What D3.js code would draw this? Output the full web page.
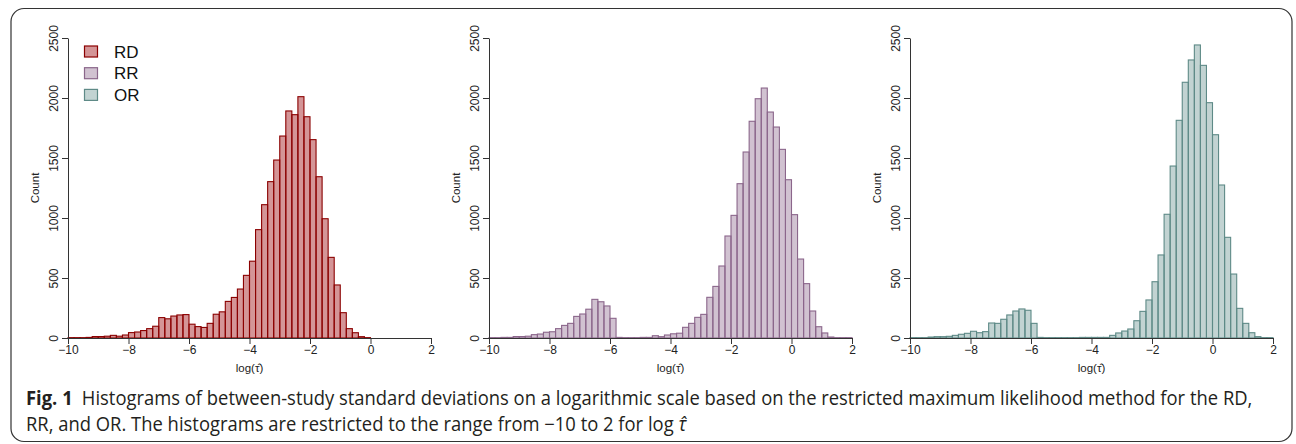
<!DOCTYPE html>
<html lang="en">
<head>
  <meta charset="utf-8" />
  <title>Histograms of log tau</title>
  <script src="https://d3js.org/d3.v7.min.js"></script>
  <style>
    body { margin: 0; background: #fff; }
    svg { display: block; }
    .axis path, .axis line { stroke: #333; stroke-width: 1; }
    .axis text { font-family: "Liberation Sans", Arial, sans-serif; font-size: 12px; fill: #222; }
    .lab { font-family: "Liberation Sans", Arial, sans-serif; font-size: 11.5px; fill: #222; }
    .legend text { font-family: "Liberation Sans", Arial, sans-serif; font-size: 17px; fill: #111; }
    .caption { font-family: "Open Sans", "Noto Sans", sans-serif; font-size: 19.5px; fill: #231f20; }
  </style>
</head>
<body>
<div id="chart"></div>
<script>
  // bins of width 0.2 from -10 to 2 (left edges)
  const binStarts = d3.range(60).map(i => -10 + i * 0.2);
  const xTicks = [-10, -8, -6, -4, -2, 0, 2];
  const yTicks = [0, 500, 1000, 1500, 2000, 2500];

  // counts
  const rdCounts = [3, 3, 3, 5, 12, 12, 15, 22, 15, 25,
                    45, 50, 62, 78, 98, 170, 160, 183, 192, 195,
                    115, 95, 88, 122, 198, 218, 305, 338, 408, 522,
                    640, 903, 1111, 1303, 1483, 1683, 1892, 1861, 2011, 1844,
                    1653, 1344, 994, 672, 442, 211, 78, 44, 11, 3,
                    0, 0, 0, 0, 0, 0, 0, 0, 0, 0];
  const rrCounts = [3, 3, 5, 5, 12, 12, 15, 28, 33, 48,
                    52, 78, 105, 122, 180, 200, 240, 322, 302, 267,
                    164, 5, 3, 3, 3, 5, 5, 19, 11, 25,
                    35, 40, 89, 122, 172, 197, 339, 430, 600, 850,
                    1022, 1286, 1550, 1806, 1994, 2083, 1883, 1758, 1572, 1319,
                    1028, 658, 453, 225, 94, 42, 8, 3, 3, 3];
  const orCounts = [3, 3, 3, 8, 11, 11, 14, 22, 31, 39,
                    56, 44, 53, 125, 122, 156, 192, 225, 242, 231,
                    122, 5, 3, 3, 3, 3, 3, 3, 5, 5,
                    5, 5, 5, 22, 42, 58, 75, 144, 222, 317,
                    469, 692, 1031, 1433, 1814, 2131, 2317, 2442, 2272, 1961,
                    1694, 1275, 839, 533, 247, 122, 44, 11, 3, 3];

  const seriesNames = ["RD", "RR", "OR"];
  const fills = ["rgba(160, 20, 25, 0.45)", "rgba(139, 102, 139, 0.4)", "rgba(95, 140, 137, 0.38)"];
  const strokes = ["#8b0000", "#8b668b", "#5e8a87"];

  const W = 1296, H = 444;
  const svg = d3.select("#chart").append("svg")
    .attr("width", W)
    .attr("height", H);

  svg.append("rect").attr("width", W).attr("height", H).attr("fill", "#fff");

  // rounded frame round the figure
  svg.append("rect")
    .attr("x", 11).attr("y", 8.5)
    .attr("width", 1281).attr("height", 433)
    .attr("rx", 13)
    .attr("fill", "none")
    .attr("stroke", "#333")
    .attr("stroke-width", 1.2);

  const panelLeft = [68, 489, 910];
  const plotW = 363;
  const plotTop = 38, plotBottom = 338;

  function drawPanel(i, counts) {
    const x = d3.scaleLinear().domain([-10, 2]).range([panelLeft[i], panelLeft[i] + plotW]);
    const y = d3.scaleLinear().domain([0, 2500]).range([plotBottom, plotTop]);
    const g = svg.append("g");

    g.append("g").selectAll("rect")
      .data(counts)
      .join("rect")
      .attr("x", (d, j) => x(binStarts[j]))
      .attr("y", d => y(d))
      .attr("width", (d, j) => x(binStarts[j] + 0.2) - x(binStarts[j]))
      .attr("height", d => plotBottom - y(d))
      .attr("fill", fills[i])
      .attr("stroke", strokes[i])
      .attr("stroke-width", 1.1);

    const xa = g.append("g")
      .attr("class", "axis")
      .attr("transform", `translate(0,${plotBottom})`)
      .call(d3.axisBottom(x).tickValues(xTicks).tickSize(6).tickSizeOuter(0)
        .tickFormat(d => d < 0 ? "\u2212" + Math.abs(d) : d));
    xa.selectAll("text").attr("dy", "0.8em").attr("y", 6);

    const ya = g.append("g")
      .attr("class", "axis")
      .attr("transform", `translate(${panelLeft[i]},0)`)
      .call(d3.axisLeft(y).tickValues(yTicks).tickSize(6).tickSizeOuter(0)
        .tickFormat(d3.format("d")));
    ya.selectAll("text")
      .attr("transform", "rotate(-90)")
      .attr("x", 0).attr("y", -10).attr("dy", 0)
      .attr("text-anchor", "middle");

    g.append("text").attr("class", "lab")
      .attr("transform", `translate(${panelLeft[i] - 29},${(plotTop + plotBottom) / 2}) rotate(-90)`)
      .attr("text-anchor", "middle")
      .text("Count");

    g.append("text").attr("class", "lab")
      .attr("x", x(-4)).attr("y", 372)
      .attr("text-anchor", "middle")
      .text("log(\u03C4\u0302)");
  }

  drawPanel(0, rdCounts);
  drawPanel(1, rrCounts);
  drawPanel(2, orCounts);

  // legend in first panel
  const leg = svg.append("g").attr("class", "legend");
  seriesNames.forEach((name, k) => {
    const yy = 46 + k * 21.7;
    leg.append("rect")
      .attr("x", 84.5).attr("y", yy)
      .attr("width", 13).attr("height", 11)
      .attr("fill", fills[k]).attr("stroke", strokes[k]).attr("stroke-width", 1.2);
    leg.append("text").attr("x", 114).attr("y", yy + 11.5).text(name);
  });

  // caption
  const cap = svg.append("g").attr("class", "caption");
  const l1 = cap.append("text").attr("x", 0).attr("y", 405);
  l1.append("tspan").attr("font-weight", "bold").text("Fig. 1");
  l1.append("tspan").text("\u2002Histograms of between-study standard deviations on a logarithmic scale based on the restricted maximum likelihood method for the RD,");
  const l2 = cap.append("text").attr("x", 0).attr("y", 431);
  l2.append("tspan").text("RR, and OR. The histograms are restricted to the range from \u221210 to 2 for log ");
  l2.append("tspan").attr("font-style", "italic").text("\u03C4\u0302");
  const natural = l1.node().getComputedTextLength();
  const sx = (1253 - 26) / natural;
  cap.attr("transform", `translate(26,0) scale(${sx},1)`);
</script>
</body>
</html>
